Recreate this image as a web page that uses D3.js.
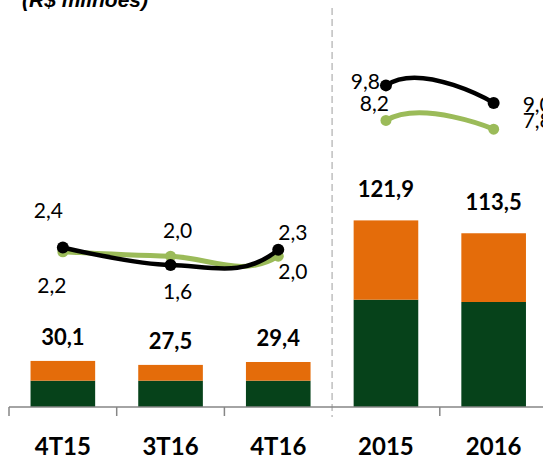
<!DOCTYPE html>
<html>
<head>
<meta charset="utf-8">
<script src="https://cdn.jsdelivr.net/npm/d3@7"></script>
<style>
  html, body { margin: 0; padding: 0; background: #fff; }
  svg { display: block; }
</style>
</head>
<body>
<svg id="chart"></svg>
<script>
// ---- Data ----
const categories = ['4T15', '3T16', '4T16', '2015', '2016'];
const greenValues = [17.2, 17.2, 17.2, 70.1, 68.6];
const orangeValues = [12.9, 10.3, 12.2, 51.8, 44.9];
const totalLabels = ['30,1', '27,5', '29,4', '121,9', '113,5'];
const blackLine = [2.4, 1.6, 2.3, 9.8, 9.0];
const greenLine = [2.2, 2.0, 2.0, 8.2, 7.8];
const title = '(R$ milhões)';

// label placement around each line point (layout only)
const blackLabelPos = [
  { dx: 0, dy: -29, anchor: 'end' },
  { dx: 7, dy: 34, anchor: 'middle' },
  { dx: 0, dy: -10, anchor: 'start' },
  { dx: -6, dy: 4, anchor: 'end' },
  { dx: 29, dy: 9, anchor: 'start' }
];
const greenLabelPos = [
  { dx: -11, dy: 41, anchor: 'middle' },
  { dx: 7, dy: -18, anchor: 'middle' },
  { dx: 0, dy: 23, anchor: 'start' },
  { dx: 3, dy: -9, anchor: 'end' },
  { dx: 29, dy: -1, anchor: 'start' }
];

const width = 543, height = 458;
const C_GREEN = '#06421a';
const C_ORANGE = '#e46c0a';
const C_LIGHT = '#9bbb59';

const svg = d3.select('#chart').attr('width', width).attr('height', height);

const baseY = 407;
const x = d3.scaleBand()
  .domain(categories)
  .range([9, 9 + 107.7 * categories.length])
  .paddingInner(0.4)
  .paddingOuter(0.2);
const step = x.step();
const yBar = d3.scaleLinear().domain([0, 260]).range([baseY, 9]);
const yLine = d3.scaleLinear().domain([0, 10]).range([300, 81]);

const cx = d => x(d) + x.bandwidth() / 2;

// ---- Title ----
svg.append('text')
  .attr('x', 22).attr('y', 7)
  .attr('font-family', '"Liberation Sans", Arial, sans-serif')
  .attr('font-weight', 'bold')
  .attr('font-style', 'italic')
  .attr('font-size', 21)
  .text(title);

// ---- Divider between quarters and years ----
const divX = x.range()[0] + step * 3;
svg.append('line')
  .attr('x1', divX).attr('x2', divX)
  .attr('y1', 8).attr('y2', baseY + 10)
  .attr('stroke', '#bfbfbf')
  .attr('stroke-width', 1.5)
  .attr('stroke-dasharray', '7,4');

// ---- Stacked bars ----
const stacked = categories.map((c, i) => ({
  cat: c, green: greenValues[i], orange: orangeValues[i],
  total: greenValues[i] + orangeValues[i], label: totalLabels[i]
}));

const bars = svg.append('g');
bars.selectAll('.bar-green')
  .data(stacked)
  .join('rect')
  .attr('x', d => x(d.cat))
  .attr('width', x.bandwidth())
  .attr('y', d => yBar(d.green))
  .attr('height', d => yBar(0) - yBar(d.green))
  .attr('fill', C_GREEN);

bars.selectAll('.bar-orange')
  .data(stacked)
  .join('rect')
  .attr('x', d => x(d.cat))
  .attr('width', x.bandwidth())
  .attr('y', d => yBar(d.total))
  .attr('height', d => yBar(d.green) - yBar(d.total))
  .attr('fill', C_ORANGE);

bars.selectAll('.bar-label')
  .data(stacked)
  .join('text')
  .attr('x', d => cx(d.cat))
  .attr('y', (d, i) => yBar(d.total) - (i < 3 ? 16 : 23))
  .attr('text-anchor', 'middle')
  .attr('font-family', 'Lato, "Open Sans", sans-serif')
  .attr('font-weight', 'bold')
  .attr('font-size', 22)
  .attr('fill', '#000')
  .text(d => d.label);

// ---- X axis ----
const axis = svg.append('g');
axis.append('line')
  .attr('x1', 9).attr('x2', width)
  .attr('y1', baseY).attr('y2', baseY)
  .attr('stroke', '#868686').attr('stroke-width', 1.5);

const tickXs = d3.range(categories.length + 1)
  .map(i => x.range()[0] + i * step)
  .filter((t, i) => i !== 3);
axis.selectAll('.tick')
  .data(tickXs)
  .join('line')
  .attr('x1', d => d).attr('x2', d => d)
  .attr('y1', baseY).attr('y2', baseY + 9)
  .attr('stroke', '#868686').attr('stroke-width', 1.5);

axis.selectAll('.cat')
  .data(categories)
  .join('text')
  .attr('x', d => cx(d))
  .attr('y', 455)
  .attr('text-anchor', 'middle')
  .attr('font-family', 'Lato, "Open Sans", sans-serif')
  .attr('font-weight', 'bold')
  .attr('font-size', 24)
  .attr('fill', '#000')
  .text(d => d);

// ---- Lines (smoothed, gap between 4T16 and 2015) ----
const defs = svg.append('defs');
const clip = defs.append('clipPath').attr('id', 'line-clip');
clip.append('rect')
  .attr('x', 0).attr('y', 0)
  .attr('width', cx('4T16')).attr('height', height);
clip.append('rect')
  .attr('x', cx('2015')).attr('y', 0)
  .attr('width', width - cx('2015')).attr('height', height);

const lineGen = d3.line()
  .x((d, i) => cx(categories[i]))
  .y(d => yLine(d))
  .curve(d3.curveCardinal.tension(0));

function drawSeries(values, color, strokeW, r, labelPos) {
  const g = svg.append('g');
  g.append('path')
    .datum(values)
    .attr('d', lineGen)
    .attr('fill', 'none')
    .attr('stroke', color)
    .attr('stroke-width', strokeW)
    .attr('stroke-linecap', 'round')
    .attr('clip-path', 'url(#line-clip)');

  g.selectAll('circle')
    .data(values)
    .join('circle')
    .attr('cx', (d, i) => cx(categories[i]))
    .attr('cy', d => yLine(d))
    .attr('r', r)
    .attr('fill', color);

  g.selectAll('text')
    .data(values)
    .join('text')
    .attr('x', (d, i) => cx(categories[i]) + labelPos[i].dx)
    .attr('y', (d, i) => yLine(d) + labelPos[i].dy)
    .attr('text-anchor', (d, i) => labelPos[i].anchor)
    .attr('font-family', 'Lato, "Open Sans", sans-serif')
    .attr('font-size', 21)
    .attr('fill', '#000')
    .text(d => d3.format('.1f')(d).replace('.', ','));
}

drawSeries(greenLine, C_LIGHT, 5, 5.5, greenLabelPos);
drawSeries(blackLine, '#000', 4.5, 6, blackLabelPos);
</script>
</body>
</html>
